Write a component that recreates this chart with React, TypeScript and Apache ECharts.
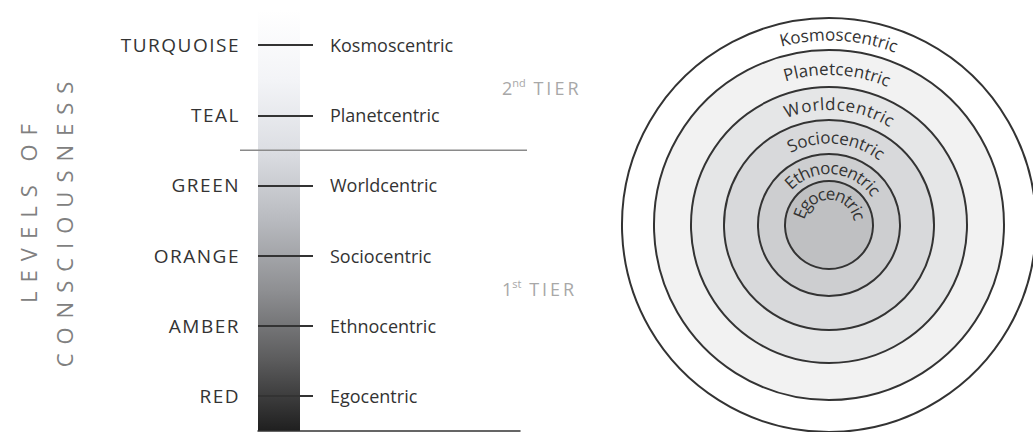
import React, { useEffect, useRef } from 'react';
import * as echarts from 'echarts';

// ---- data ----
const levels = ['RED', 'AMBER', 'ORANGE', 'GREEN', 'TEAL', 'TURQUOISE']; // bottom → top
const perspectives = ['Egocentric', 'Ethnocentric', 'Sociocentric', 'Worldcentric', 'Planetcentric', 'Kosmoscentric']; // inner → outer
const sphereRadii = [44, 71, 105, 138, 175, 207]; // outer edge of each sphere
const spectrumShades = ['#ffffff', '#f3f4f7', '#dcdee3', '#b8babf', '#8e8f92', '#5b5b5c', '#1f1f1f']; // band boundaries, top → bottom
const sphereFills = ['#bfc0c2', '#cdced0', '#d8d9db', '#e5e6e7', '#f2f2f2', '#ffffff'];
const tierOrdinals = ['1', '2'];
const tierSuffixes = ['st', 'nd'];
const tierWord = 'TIER';
const titleLines = ['LEVELS OF', 'CONSCIOUSNESS'];

// ---- layout ----
const FONT = '"Open Sans", "DejaVu Sans", sans-serif';
const CHART_H = 432;
const GRID = { left: 258, top: 10, width: 262, bottom: 1 };
const CENTER = [829, 225];
const labelArcSpan = [158, 104, 66, 54, 40, 36];
const labelArcCenter = [2, 5, 5, 5, 3, 3];

export default function App() {
  const ref = useRef<HTMLDivElement>(null);
  useEffect(() => {
    document.body.style.margin = '0';
    const el = ref.current!;
    const chart = echarts.init(el, null, { renderer: 'svg' });
    const maxR = sphereRadii[sphereRadii.length - 1];
    const nBands = levels.length;
    const stops = spectrumShades.map((c, k) => ({ offset: k / nBands, color: c }));
    const bandPx = (CHART_H - GRID.top - GRID.bottom) / nBands;
    // one column-wide gradient sampled by every band
    const columnGradient = () =>
      new echarts.graphic.LinearGradient(0, GRID.top, 0, CHART_H - GRID.bottom, stops, true);

    const series: any[] = [
      {
        type: 'bar',
        xAxisIndex: 0,
        yAxisIndex: 0,
        barWidth: Math.ceil(bandPx) + 2,
        silent: true,
        z: 2,
        data: levels.map(() => ({
          value: 42,
          itemStyle: { color: columnGradient() },
        })),
      },
    ];
    for (let i = sphereRadii.length - 1; i >= 0; i--) {
      series.push({
        type: 'bar',
        coordinateSystem: 'polar',
        name: perspectives[i],
        data: [sphereRadii[i]],
        barGap: '-100%',
        barCategoryGap: '0%',
        silent: true,
        z: 2,
        itemStyle: { color: sphereFills[i], borderColor: '#333333', borderWidth: 2 },
      });
    }

    chart.setOption({
      animation: false,
      grid: GRID,
      xAxis: {
        type: 'value',
        min: 0,
        max: 262,
        z: 5,
        axisLine: { show: true, lineStyle: { color: '#333', width: 1.5 } },
        axisTick: { show: false },
        axisLabel: { show: false },
        splitLine: { show: false },
      },
      yAxis: [
        {
          type: 'category',
          data: levels,
          position: 'left',
          offset: 5,
          z: 5,
          axisLine: { show: false },
          axisTick: { show: true, alignWithLabel: true, inside: true, length: 55, lineStyle: { color: '#333', width: 2 } },
          axisLabel: { margin: 13, color: '#333', fontSize: 19, fontFamily: FONT },
          splitLine: { show: false },
        },
        {
          type: 'category',
          data: perspectives,
          position: 'right',
          offset: -190,
          z: 5,
          axisLine: { show: false },
          axisTick: { show: false },
          axisLabel: { margin: 0, color: '#333', fontSize: 18, fontFamily: FONT },
          splitLine: { show: false },
        },
      ],
      polar: { center: CENTER, radius: maxR },
      angleAxis: { type: 'category', data: ['sphere'], startAngle: 90, show: false },
      radiusAxis: { type: 'value', min: 0, max: maxR, show: false },
      series,
    });

    const yGreen = chart.convertToPixel({ yAxisIndex: 0 }, 'GREEN') as number;
    const yTeal = chart.convertToPixel({ yAxisIndex: 0 }, 'TEAL') as number;
    const sepY = (yGreen + yTeal) / 2;

    const cvs = document.createElement('canvas');
    const ctx = cvs.getContext('2d')!;
    const arcFont = `17px ${FONT}`;
    ctx.font = arcFont;

    const elements: any[] = [];
    const [cx, cy] = CENTER;
    perspectives.forEach((name, i) => {
      const r = i === 0 ? sphereRadii[0] * 0.72 : (sphereRadii[i - 1] + sphereRadii[i]) / 2;
      const chars = name.split('');
      const widths = chars.map((c) => ctx.measureText(c).width);
      const total = widths.reduce((a, b) => a + b, 0);
      const span = (labelArcSpan[i] * Math.PI) / 180;
      const start = (labelArcCenter[i] * Math.PI) / 180 - span / 2;
      let cum = 0;
      chars.forEach((c, k) => {
        const th = start + ((cum + widths[k] / 2) / total) * span;
        cum += widths[k];
        elements.push({
          type: 'text',
          x: cx + r * Math.sin(th),
          y: cy - r * Math.cos(th),
          rotation: -th,
          silent: true,
          z: 100,
          style: {
            text: c,
            font: arcFont,
            fill: '#333',
            align: 'center',
            verticalAlign: 'middle',
            textAlign: 'center',
            textVerticalAlign: 'middle',
          },
        });
      });
    });

    // axis title
    [
      { t: titleLines[0], x: 28, y: 209 },
      { t: titleLines[1], x: 64, y: 220 },
    ].forEach((o) =>
      elements.push({
        type: 'text',
        x: o.x,
        y: o.y,
        rotation: Math.PI / 2,
        silent: true,
        z: 100,
        style: {
          text: o.t,
          font: `22px ${FONT}`,
          fill: '#808080',
          align: 'center',
          verticalAlign: 'middle',
          textAlign: 'center',
          textVerticalAlign: 'middle',
        },
      })
    );

    // tier labels
    const tierY = [289, 88];
    tierOrdinals.forEach((ord, i) => {
      elements.push({
        type: 'text',
        x: 502,
        y: tierY[i],
        silent: true,
        z: 100,
        style: {
          text: `{n|${ord}}{s|${tierSuffixes[i]}}{n| ${tierWord}}`,
          align: 'left',
          verticalAlign: 'middle',
          textAlign: 'left',
          textVerticalAlign: 'middle',
          rich: {
            n: { fontSize: 18, fontFamily: FONT, fill: '#a8a8a8', color: '#a8a8a8', lineHeight: 22 },
            s: { fontSize: 11, fontFamily: FONT, fill: '#a8a8a8', color: '#a8a8a8', lineHeight: 14, verticalAlign: 'top' },
          },
        },
      });
    });

    // tier separator
    elements.push({
      type: 'line',
      silent: true,
      z: 100,
      shape: { x1: 240, y1: sepY, x2: 527, y2: sepY },
      style: { stroke: '#8a8a8a', lineWidth: 1.5 },
    });

    chart.setOption({ graphic: { elements } });

    const spacing: Record<string, string> = { 'LEVELS OF': '9', CONSCIOUSNESS: '9', TIER: '3' };
    levels.forEach((l) => (spacing[l] = '1.5'));
    const apply = () => {
      el.querySelectorAll('text').forEach((t) => {
        const key = (t.textContent || '').trim();
        const v = spacing[key];
        if (v) t.setAttribute('letter-spacing', v);
      });
    };
    apply();
    chart.on('finished', apply);
    const timer = setTimeout(apply, 50);

    return () => {
      clearTimeout(timer);
      chart.dispose();
    };
  }, []);

  return <div ref={ref} style={{ width: 1033, height: CHART_H }} />;
}
